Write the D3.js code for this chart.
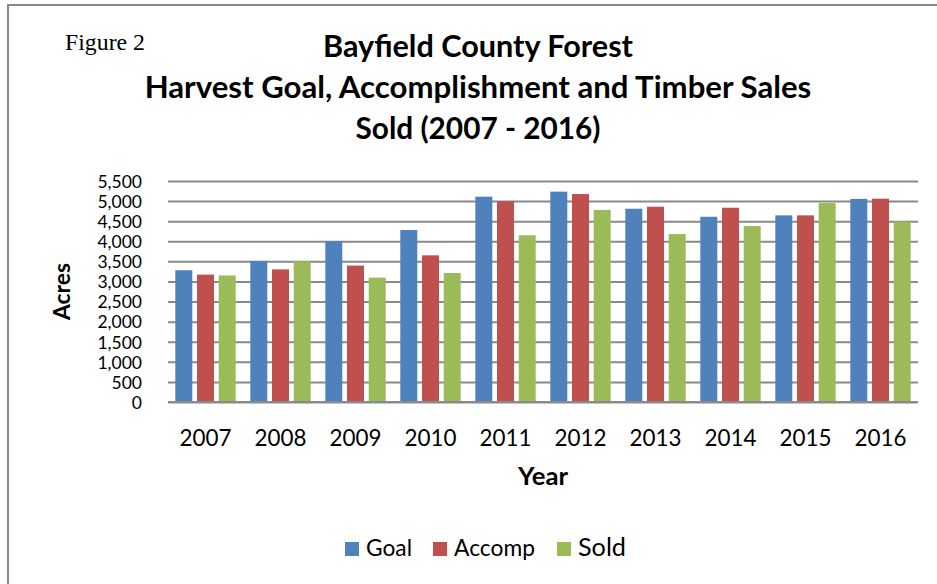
<!DOCTYPE html>
<html>
<head>
<meta charset="utf-8">
<script src="https://cdn.jsdelivr.net/npm/d3@7"></script>
<style>
  html, body { margin: 0; padding: 0; background: #fff; }
  svg { display: block; }
  text { font-family: Lato, "Open Sans", sans-serif; fill: #000; }
</style>
</head>
<body>
<svg id="chart" width="937" height="584"></svg>
<script>
// ---- data ----
const years = ["2007","2008","2009","2010","2011","2012","2013","2014","2015","2016"];
const seriesNames = ["Goal","Accomp","Sold"];
const goal   = [3280, 3510, 4000, 4280, 5110, 5235, 4810, 4610, 4645, 5055];
const accomp = [3170, 3300, 3395, 3650, 4995, 5175, 4860, 4835, 4645, 5060];
const sold   = [3150, 3500, 3095, 3210, 4150, 4780, 4180, 4380, 4950, 4490];
const yTicks = [0, 500, 1000, 1500, 2000, 2500, 3000, 3500, 4000, 4500, 5000, 5500];
const titleLines = ["Bayfield County Forest", "Harvest Goal, Accomplishment and Timber Sales", "Sold (2007 - 2016)"];
const colors = ["#4F81BD", "#C0504D", "#9BBB59"];

(function () {
const seriesValues = [goal, accomp, sold];
const svg = d3.select("#chart");

function fit(sel, target) {
  sel.each(function() {
    const fs = parseFloat(this.getAttribute("font-size"));
    const w = this.getComputedTextLength();
    if (w > 0) this.setAttribute("font-size", (fs * target / w).toFixed(2));
  });
}

// outer border
svg.append("rect").attr("x", 8).attr("y", 5).attr("width", 1000).attr("height", 700)
  .attr("fill", "#fff").attr("stroke", "#878787").attr("stroke-width", 2);

// layout
const pL = 168, pR = 918, pT = 181, pB = 402;

const x0 = d3.scaleBand().domain(years).range([pL, pR]).padding(0);
const x1 = d3.scaleBand().domain(seriesNames).range([0, x0.bandwidth()])
  .paddingInner(0.217).paddingOuter(0.337);
const y = d3.scaleLinear().domain([0, 5500]).range([pB, pT]);

// gridlines + y labels
const yAxis = svg.append("g").attr("transform", `translate(${pL},0)`)
  .call(d3.axisLeft(y).tickValues(yTicks).tickFormat(d3.format(",")).tickSize(-(pR - pL)).tickPadding(26));
yAxis.select(".domain").remove();
yAxis.selectAll(".tick line").attr("stroke", "#8a8a8a").attr("stroke-width", 2);
yAxis.selectAll(".tick text").attr("font-family", "Lato, sans-serif").attr("font-size", 17.5)
  .attr("fill", "#000").attr("dy", "0.36em");

// bars
const groups = svg.append("g").selectAll("g").data(years).join("g")
  .attr("transform", d => `translate(${x0(d)},0)`);
groups.selectAll("rect")
  .data((d, i) => seriesNames.map((s, k) => ({ s, k, v: seriesValues[k][i] })))
  .join("rect")
  .attr("x", d => x1(d.s))
  .attr("width", x1.bandwidth())
  .attr("y", d => y(d.v))
  .attr("height", d => y(0) - y(d.v))
  .attr("fill", d => colors[d.k]);

// baseline
svg.append("line").attr("x1", pL).attr("x2", pR).attr("y1", y(0)).attr("y2", y(0))
  .attr("stroke", "#8a8a8a").attr("stroke-width", 2);

// x axis labels
const xAxis = svg.append("g").attr("transform", `translate(0,${pB})`)
  .call(d3.axisBottom(x0).tickSize(0).tickPadding(0));
xAxis.select(".domain").remove();
xAxis.selectAll(".tick text").attr("font-family", "Lato, sans-serif").attr("font-size", 22)
  .attr("fill", "#000").attr("y", 44).attr("dy", 0);
{
  const t = xAxis.select(".tick text").node();
  const w = t.getComputedTextLength();
  const fs = 22 * 52 / w;
  xAxis.selectAll(".tick text").attr("font-size", fs.toFixed(2));
}

// axis titles
svg.append("text").attr("x", (pL + pR) / 2).attr("y", 485).attr("text-anchor", "middle")
  .attr("font-weight", "bold").attr("font-size", 22).text("Year").call(fit, 50);
svg.append("text").attr("transform", `translate(70,${(pT + pB) / 2}) rotate(-90)`)
  .attr("text-anchor", "middle").attr("font-weight", "bold").attr("font-size", 22)
  .text("Acres").call(fit, 57);

// title
const titleW = [310, 667, 245];
const titleY = [57, 98, 139];
svg.append("g").selectAll("text").data(titleLines).join("text")
  .attr("x", 478).attr("y", (d, i) => titleY[i]).attr("text-anchor", "middle")
  .attr("font-weight", "bold").attr("font-size", 28).text(d => d)
  .each(function(d, i) { fit(d3.select(this), titleW[i]); });

// Figure 2
svg.append("text").attr("x", 65).attr("y", 50)
  .style("font-family", "'Liberation Serif', 'Times New Roman', serif")
  .attr("font-size", 20).text("Figure 2").call(fit, 80);

// legend
const legX = [345, 433, 557];
const legW = [46, 81, 48];
const leg = svg.append("g").selectAll("g").data(seriesNames).join("g")
  .attr("transform", (d, i) => `translate(${legX[i]},542)`);
leg.append("rect").attr("width", 14).attr("height", 14).attr("fill", (d, i) => colors[i]);
leg.append("text").attr("x", 21).attr("y", 14).attr("font-size", 22).text(d => d)
  .each(function(d, i) { fit(d3.select(this), legW[i]); });
})();
</script>
</body>
</html>
